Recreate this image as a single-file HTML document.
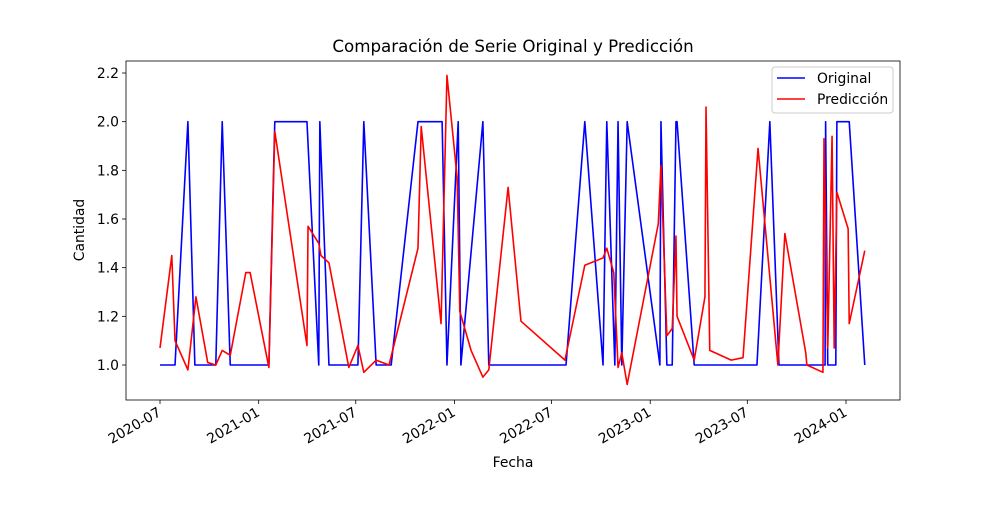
<!DOCTYPE html>
<html><head><meta charset="utf-8"><style>
body{margin:0;background:#fff;}
svg{font-family:"DejaVu Sans","Liberation Sans",sans-serif;}
</style></head><body>
<svg id="chart" width="1000" height="500"></svg>
<script>
const blueDays=[0,28,52,65,104,116,131,203,214,274,296,298,315,369,380,403,431,481,526,535,556,561,602,613,757,792,826,833,848,854,861,871,932,934,945,955,962,964,996,1113,1137,1154,1240,1241,1245,1260,1262,1285,1314];
const blueVals=[1,1,2,1,1,2,1,1,2,2,1,2,1,1,2,1,1,2,2,1,2,1,2,1,1,2,1,2,1,2,1,2,1,2,1,1,2,2,1,1,2,1,1,2,1,1,2,2,1];
const redDays=[0,22,28,52,67,89,104,116,131,160,168,203,214,274,276,296,300,315,352,369,380,403,427,481,487,524,535,554,559,580,602,613,649,673,755,792,826,833,846,854,861,871,929,934,945,955,962,964,996,1016,1018,1025,1065,1087,1115,1152,1165,1204,1206,1236,1238,1245,1253,1257,1262,1283,1285,1314];
const redVals=[1.07,1.45,1.10,0.98,1.28,1.01,1.00,1.06,1.04,1.38,1.38,0.99,1.96,1.08,1.57,1.50,1.45,1.42,0.99,1.08,0.97,1.02,1.00,1.48,1.98,1.17,2.19,1.77,1.22,1.06,0.95,0.98,1.73,1.18,1.02,1.41,1.44,1.48,1.38,0.99,1.05,0.92,1.58,1.82,1.12,1.15,1.53,1.20,1.02,1.28,2.06,1.06,1.02,1.03,1.89,1.00,1.54,1.05,1.00,0.97,1.93,1.07,1.94,1.07,1.71,1.56,1.17,1.47];
const xTickDays=[0,184,365,549,730,914,1095,1279];
const xTickLabels=["2020-07","2021-01","2021-07","2022-01","2022-07","2023-01","2023-07","2024-01"];
const yTicks=[1.0,1.2,1.4,1.6,1.8,2.0,2.2];

const NS="http://www.w3.org/2000/svg";
const svg=document.getElementById('chart');
const L=126,R=900,T=61,B=400;
const xs=d=>160+d*(686/1279);
const ys=v=>365-(v-1)*(292/1.2);
function mk(tag,attrs,parent){const e=document.createElementNS(NS,tag);for(const k in attrs)e.setAttribute(k,attrs[k]);(parent||svg).appendChild(e);return e;}

const title=mk('text',{x:513,y:52,'text-anchor':'middle','font-size':16.7});


title.textContent='Comparación de Serie Original y Predicción';

const xt=mk('g',{});


xTickDays.forEach((d,i)=>{
  const x=xs(d);
  mk('line',{x1:x,x2:x,y1:B,y2:B+4,stroke:'#000','stroke-width':0.8},xt);
  const t=mk('text',{x:x+2,y:B+15,'text-anchor':'end','font-size':13.9,transform:`rotate(-30 ${x+2} ${B+15})`},xt);
  
  
  t.textContent=xTickLabels[i];
});
const yt=mk('g',{});


yTicks.forEach(v=>{
  const y=ys(v);
  mk('line',{x1:L-4,x2:L,y1:y,y2:y,stroke:'#000','stroke-width':0.8},yt);
  const t=mk('text',{x:L-7,y:y+5,'text-anchor':'end','font-size':13.9},yt);
  
  
  t.textContent=v.toFixed(1);
});
const xl=mk('text',{x:513,y:467,'text-anchor':'middle','font-size':13.9});


xl.textContent='Fecha';
const yl=mk('text',{x:84,y:230,'text-anchor':'middle','font-size':13.9,transform:'rotate(-90 84 230)'});


yl.textContent='Cantidad';

function line(days,vals,color,name){
  const p=mk('polyline',{points:days.map((d,i)=>xs(d)+','+ys(vals[i])).join(' '),fill:'none',stroke:color,'stroke-width':1.6,'stroke-linejoin':'round'});
  
  
}
line(blueDays,blueVals,'#0000ff','original-series');
line(redDays,redVals,'#ff0000','prediction-series');

const frame=mk('rect',{x:L,y:T,width:R-L,height:B-T,fill:'none',stroke:'#000','stroke-width':0.8});



const lg=mk('g',{});


mk('rect',{x:772,y:67,width:121,height:46,rx:3,fill:'#fff',stroke:'#ccc','stroke-width':1},lg);
[['Original','#0000ff',78],['Predicción','#ff0000',99]].forEach(([n,c,y])=>{
  mk('line',{x1:777,x2:805,y1:y,y2:y,stroke:c,'stroke-width':1.6},lg);
  const t=mk('text',{x:817,y:y+5,'font-size':13.9},lg);
  
  
  t.textContent=n;
});
</script>
</body></html>
